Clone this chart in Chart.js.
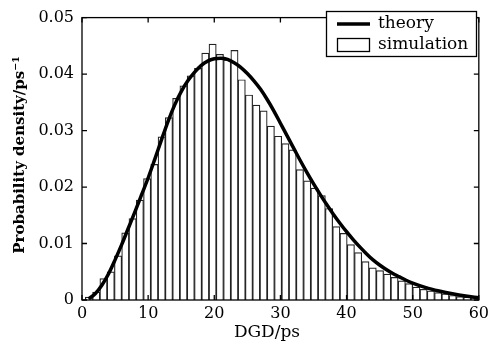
<!DOCTYPE html>
<html><head><meta charset="utf-8">
<script src="https://cdn.jsdelivr.net/npm/chart.js@4/dist/chart.umd.min.js"></script>
<style>html,body{margin:0;padding:0;background:#fff;}</style>
</head><body>
<canvas id="c" width="493" height="344"></canvas>
<script>
// histogram bin centres (DGD, ps)
const binCenters = [1.05, 2.15, 3.25, 4.35, 5.45, 6.55, 7.65, 8.75, 9.85, 10.95,
  12.05, 13.15, 14.25, 15.35, 16.45, 17.55, 18.65, 19.75, 20.85, 21.95,
  23.05, 24.15, 25.25, 26.35, 27.45, 28.55, 29.65, 30.75, 31.85, 32.95,
  34.05, 35.15, 36.25, 37.35, 38.45, 39.55, 40.65, 41.75, 42.85, 43.95,
  45.05, 46.15, 47.25, 48.35, 49.45, 50.55, 51.65, 52.75, 53.85, 54.95,
  56.05, 57.15, 58.25, 59.35];
// simulated probability density
const simulation = [0.0005, 0.0014, 0.0038, 0.0050, 0.0078, 0.0119, 0.0144, 0.0177, 0.0215, 0.0240,
  0.0289, 0.0323, 0.0357, 0.0379, 0.0397, 0.0410, 0.0437, 0.0453, 0.0435, 0.0425,
  0.0442, 0.0390, 0.0363, 0.0345, 0.0335, 0.0308, 0.0290, 0.0277, 0.0266, 0.0231,
  0.0211, 0.0198, 0.0185, 0.0162, 0.0130, 0.0118, 0.0098, 0.0084, 0.0068, 0.0057,
  0.0052, 0.0046, 0.0040, 0.0034, 0.0029, 0.0023, 0.0019, 0.0016, 0.0013, 0.0011,
  0.0008, 0.0006, 0.0005, 0.0004];
// theory curve
const theoryX = [1, 2, 3, 4, 5, 6, 7, 8, 9, 10, 11, 12, 13, 14, 15, 16, 17, 18, 19, 20,
  21, 22, 23, 24, 25, 26, 27, 28, 29, 30, 31, 32, 33, 34, 35, 36, 37, 38, 39, 40,
  41, 42, 43, 44, 45, 46, 47, 48, 49, 50, 52, 54, 56, 58, 60];
const theoryY = [0.0002, 0.0011, 0.0026, 0.0046, 0.0071, 0.0098, 0.0127, 0.0156, 0.0186, 0.0216,
  0.0249, 0.0283, 0.0316, 0.0345, 0.0369, 0.0388, 0.0403, 0.0415, 0.0423, 0.0427,
  0.0428, 0.0426, 0.0420, 0.0412, 0.0401, 0.0388, 0.0373, 0.0355, 0.0335, 0.0313,
  0.0291, 0.0269, 0.0247, 0.0226, 0.0206, 0.0187, 0.0169, 0.0152, 0.0136, 0.0121,
  0.0107, 0.0094, 0.0082, 0.0071, 0.0062, 0.0054, 0.0047, 0.0041, 0.0035, 0.0030,
  0.0022, 0.0016, 0.0011, 0.0007, 0.0004];
const xTicks = [0, 10, 20, 30, 40, 50, 60];
const yTicks = [0, 0.01, 0.02, 0.03, 0.04, 0.05];
const yTickLabels = ['0', '0.01', '0.02', '0.03', '0.04', '0.05'];
const seriesNames = ['theory', 'simulation'];
const xTitle = 'DGD/ps';
const yTitle = 'Probability density/ps\u207B\u00B9';

const FONT = 'DejaVu Serif';

const framePlugin = {
  id: 'frame',
  afterDraw(chart) {
    const {ctx, chartArea: a, scales: {x, y}} = chart;
    ctx.save();
    ctx.strokeStyle = '#000';
    ctx.lineWidth = 1.3;
    ctx.strokeRect(a.left, a.top, a.right - a.left, a.bottom - a.top);
    const tl = 5;
    ctx.beginPath();
    x.ticks.forEach((t, i) => {
      const px = x.getPixelForTick(i);
      ctx.moveTo(px, a.bottom); ctx.lineTo(px, a.bottom - tl);
      ctx.moveTo(px, a.top); ctx.lineTo(px, a.top + tl);
    });
    y.ticks.forEach((t, i) => {
      const py = y.getPixelForTick(i);
      ctx.moveTo(a.left, py); ctx.lineTo(a.left + tl, py);
      ctx.moveTo(a.right, py); ctx.lineTo(a.right - tl, py);
    });
    ctx.stroke();

    // axis titles
    ctx.fillStyle = '#000';
    ctx.textAlign = 'center';
    ctx.textBaseline = 'middle';
    ctx.font = '17px "' + FONT + '"';
    ctx.fillText(xTitle, 267, 333);
    ctx.save();
    ctx.translate(20, 155);
    ctx.rotate(-Math.PI / 2);
    ctx.font = 'bold 15px "' + FONT + '"';
    ctx.fillText(yTitle, 0, 0);
    ctx.restore();

    // legend
    const ds = chart.data.datasets;
    const bx = 326.5, by = 11.5, bw = 150, bh = 45;
    ctx.fillStyle = '#fff';
    ctx.fillRect(bx, by, bw, bh);
    ctx.lineWidth = 1.3;
    ctx.strokeRect(bx, by, bw, bh);
    ctx.lineWidth = 3.5;
    ctx.beginPath();
    ctx.moveTo(337, 24); ctx.lineTo(370, 24);
    ctx.stroke();
    ctx.lineWidth = 1.3;
    ctx.strokeRect(337.5, 38.5, 32, 13);
    ctx.fillStyle = '#000';
    ctx.font = '17px "' + FONT + '"';
    ctx.textBaseline = 'middle';
    ctx.textAlign = 'left';
    ctx.fillText(ds[0].label, 378, 24);
    ctx.fillText(ds[1].label, 378, 45);
    ctx.restore();
  }
};

new Chart(document.getElementById('c'), {
  type: 'bar',
  data: {
    datasets: [
      {
        type: 'line',
        label: seriesNames[0],
        data: theoryX.map((v, i) => ({x: v, y: theoryY[i]})),
        borderColor: '#000',
        borderWidth: 3.5,
        pointRadius: 0,
        fill: false,
        cubicInterpolationMode: 'monotone',
        order: 0
      },
      {
        type: 'bar',
        label: seriesNames[1],
        data: binCenters.map((v, i) => ({x: v, y: simulation[i]})),
        backgroundColor: '#fff',
        borderColor: '#222',
        borderWidth: 1.2,
        barPercentage: 1,
        categoryPercentage: 1,
        order: 1
      }
    ]
  },
  options: {
    responsive: false,
    animation: false,
    devicePixelRatio: 1,
    layout: {padding: {top: 6, right: 11, left: 0, bottom: 0}},
    plugins: {legend: {display: false}, tooltip: {enabled: false}},
    scales: {
      x: {
        type: 'linear', position: 'bottom', min: 0, max: 60, offset: false,
        afterBuildTicks: s => { s.ticks = xTicks.map(v => ({value: v})); },
        afterFit: s => { s.height = 44; },
        ticks: {color: '#000', font: {family: FONT, size: 16}, padding: 4, maxRotation: 0},
        grid: {display: false, drawTicks: false, offset: false},
        border: {display: false},
        title: {display: false, text: xTitle}
      },
      y: {
        type: 'linear', min: 0, max: 0.05,
        afterBuildTicks: s => { s.ticks = yTicks.map(v => ({value: v})); },
        afterFit: s => { s.width = 82; },
        ticks: {color: '#000', font: {family: FONT, size: 16}, padding: 8,
          callback: (v, i) => yTickLabels[i]},
        grid: {display: false, drawTicks: false},
        border: {display: false},
        title: {display: false, text: yTitle}
      }
    }
  },
  plugins: [framePlugin]
});
</script>
</body></html>
